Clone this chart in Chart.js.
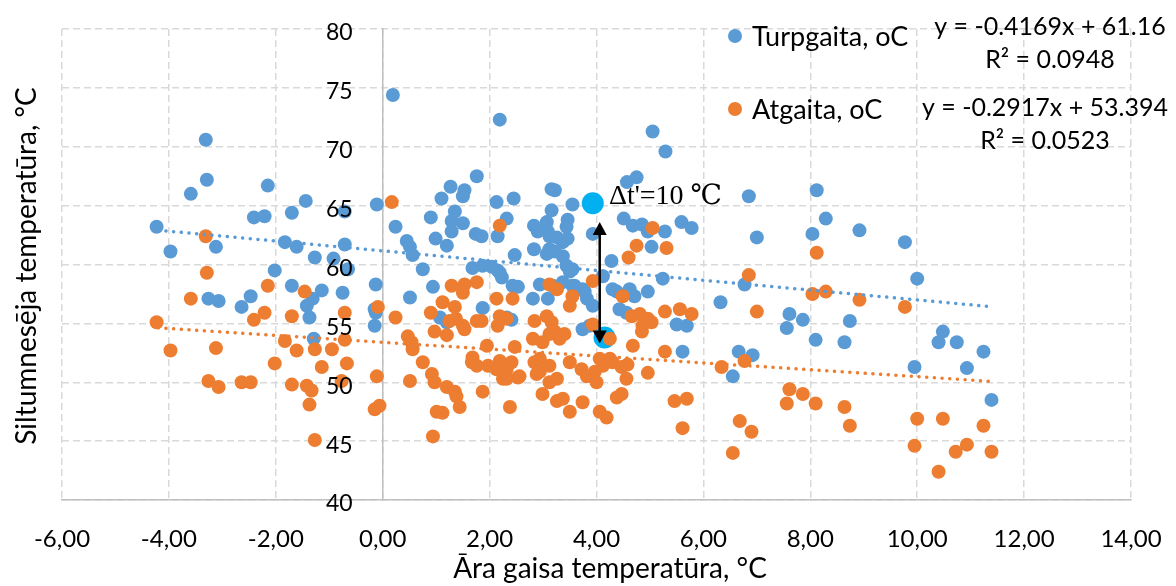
<!DOCTYPE html>
<html>
<head>
<meta charset="utf-8">
<script src="https://cdn.jsdelivr.net/npm/chart.js@4.4.0/dist/chart.umd.min.js"></script>
<style>
  html, body { margin: 0; padding: 0; background: #fff; }
  #wrap { width: 1176px; height: 586px; }
</style>
</head>
<body>
<div id="wrap"><canvas id="chart"></canvas></div>
<script>
// outdoor air temperature (x) vs. supply / return water temperature (y)
const turpgaitaPoints = [
  [-4.23, 63.2], [-3.97, 61.1], [-3.31, 70.6], [-3.29, 67.2], [-3.59, 66.0], [-3.12, 61.5],
  [-3.26, 57.1], [-3.07, 56.9], [-2.64, 56.4], [-2.47, 57.3], [-2.41, 64.0], [-2.21, 64.1],
  [-2.15, 66.7], [-2.02, 59.5], [-1.83, 61.9], [-1.61, 61.5], [-1.70, 64.4], [-1.44, 65.4],
  [-1.70, 58.2], [-1.27, 60.6], [-1.14, 57.8], [-1.42, 56.5], [-1.31, 57.1], [-1.37, 55.5],
  [-1.29, 53.7], [-0.71, 64.5], [-0.71, 61.7], [-0.92, 60.5], [-0.65, 59.6], [-0.75, 57.6],
  [-0.11, 65.1], [-0.13, 58.3], [-0.13, 55.9], [-0.15, 54.8], [-0.15, 56.2],
  [0.19, 74.4], [0.24, 63.2], [1.76, 67.5], [1.27, 66.6], [1.53, 66.3], [1.50, 65.8],
  [1.10, 65.6], [0.90, 64.0], [1.35, 64.5], [1.29, 63.7], [1.50, 63.5], [1.29, 62.8],
  [0.99, 62.2], [1.20, 61.6], [1.74, 62.6], [1.85, 62.4], [0.45, 62.0], [0.51, 61.5],
  [0.56, 60.8], [0.75, 59.6], [2.13, 65.3], [2.45, 65.6], [2.32, 63.9], [2.15, 62.4],
  [2.47, 60.8], [2.83, 63.3], [2.90, 62.8], [2.83, 61.3], [3.16, 66.4], [3.22, 66.3],
  [3.16, 64.6], [3.07, 63.6], [3.12, 62.4], [3.12, 61.3], [1.68, 59.7], [1.87, 59.9],
  [2.04, 59.8], [2.15, 59.5], [2.23, 58.9], [0.94, 58.1], [0.51, 57.2], [2.43, 58.2],
  [2.53, 58.1], [2.94, 58.3], [2.19, 72.3], [5.05, 71.3], [5.29, 69.6], [3.55, 65.1],
  [4.57, 67.0], [4.75, 67.4], [6.85, 65.8], [7.00, 62.3], [3.46, 63.8], [3.44, 63.2],
  [3.09, 62.8], [3.26, 62.3], [3.37, 61.9], [3.46, 62.2], [3.07, 60.9], [3.22, 61.1],
  [3.37, 60.7], [3.93, 62.6], [4.51, 63.9], [4.68, 63.3], [4.85, 63.4], [4.96, 62.8],
  [5.28, 62.8], [5.59, 63.6], [5.78, 63.1], [5.03, 61.5], [4.28, 60.3], [5.24, 58.8],
  [6.77, 58.3], [2.19, 59.3], [3.44, 59.9], [3.55, 59.6], [4.12, 59.0], [3.18, 58.2],
  [3.37, 58.5], [3.55, 58.2], [3.78, 57.7], [4.30, 57.9], [4.62, 57.9], [4.96, 57.7],
  [3.50, 59.4], [3.59, 58.2], [3.74, 57.9], [3.82, 57.1], [3.93, 56.5], [4.38, 57.7],
  [4.71, 57.3], [4.43, 56.2], [4.56, 55.9], [3.74, 54.5], [3.87, 54.8], [5.50, 54.9],
  [5.69, 54.8], [5.61, 52.6], [6.32, 56.8], [6.55, 50.5], [6.66, 52.6], [6.92, 52.3],
  [1.87, 56.3], [2.32, 55.5], [2.41, 55.3], [2.81, 57.1], [3.09, 57.1], [1.07, 55.5],
  [1.20, 55.1], [8.12, 66.3], [8.29, 63.9], [8.04, 62.6], [8.92, 62.9], [9.77, 61.9],
  [10.00, 58.8], [7.61, 55.8], [7.86, 55.3], [7.56, 54.6], [8.74, 55.2], [8.10, 53.6],
  [8.64, 53.4], [10.48, 54.3], [10.40, 53.4], [10.74, 53.4], [11.24, 52.6], [9.95, 51.3],
  [10.93, 51.2], [11.39, 48.5]
];

const atgaitaPoints = [
  [-4.23, 55.1], [-3.97, 52.7], [-3.31, 62.4], [-3.29, 59.3], [-3.59, 57.1], [-3.12, 52.9],
  [-3.26, 50.1], [-3.07, 49.6], [-2.64, 50.0], [-2.47, 50.0], [-2.41, 55.3], [-2.21, 55.9],
  [-2.15, 58.2], [-2.02, 51.6], [-1.83, 53.5], [-1.61, 52.7], [-1.70, 55.6], [-1.46, 57.7],
  [-1.70, 49.8], [-1.42, 49.7], [-1.33, 49.3], [-1.37, 48.1], [-1.27, 45.1], [-1.27, 52.8],
  [-0.95, 52.8], [-1.14, 51.3], [-0.71, 55.9], [-0.71, 53.6], [-0.67, 51.6], [-0.77, 50.1],
  [-0.11, 50.5], [-0.09, 56.4], [-0.15, 47.7], [-0.06, 48.0],
  [0.17, 65.3], [2.19, 63.3], [0.24, 55.5], [0.90, 55.9], [1.12, 56.8], [1.35, 56.4],
  [1.37, 55.4], [1.25, 55.2], [0.97, 54.3], [1.20, 54.0], [1.50, 54.8], [1.53, 54.5],
  [1.76, 55.2], [1.85, 55.2], [0.47, 53.9], [0.54, 53.4], [0.56, 52.8], [0.75, 51.7],
  [0.51, 50.1], [0.92, 50.7], [0.97, 50.0], [1.20, 49.6], [1.35, 49.2], [1.38, 48.8],
  [1.01, 47.5], [1.12, 47.4], [1.44, 47.9], [0.94, 45.4], [2.13, 57.1], [2.43, 57.1],
  [2.15, 54.8], [2.32, 55.4], [1.95, 53.1], [1.68, 52.1], [1.67, 51.7], [1.76, 51.4],
  [1.87, 49.2], [2.38, 47.9], [1.97, 51.4], [2.19, 51.8], [2.32, 51.1], [2.41, 51.7],
  [2.25, 50.3], [2.53, 50.4], [2.47, 53.0], [2.81, 53.7], [2.84, 55.2], [3.07, 55.6],
  [3.16, 55.1], [3.22, 54.3], [2.84, 51.7], [2.88, 50.7], [3.12, 50.0], [2.99, 49.0],
  [3.26, 48.4], [1.29, 58.2], [1.53, 58.3], [1.76, 58.5], [1.50, 57.6], [2.19, 55.6],
  [3.12, 58.3], [3.26, 57.9], [3.55, 57.3], [3.50, 56.5], [3.12, 54.1], [3.31, 53.7],
  [3.40, 54.1], [2.99, 53.4], [3.93, 54.9], [4.25, 53.7], [4.49, 57.3], [4.66, 55.6],
  [4.81, 55.8], [4.96, 55.4], [5.03, 55.1], [4.86, 54.8], [4.85, 54.3], [4.68, 53.1],
  [5.28, 56.0], [5.56, 56.2], [5.78, 55.8], [5.28, 52.6], [4.96, 50.8], [2.13, 51.1],
  [2.32, 50.3], [2.56, 50.5], [2.94, 52.0], [2.94, 50.9], [3.12, 51.4], [3.26, 50.3],
  [3.37, 48.6], [3.50, 47.5], [3.74, 48.3], [3.50, 51.7], [3.72, 51.1], [3.82, 50.5],
  [4.00, 50.0], [3.97, 50.9], [4.12, 51.4], [4.30, 51.7], [4.47, 51.3], [4.58, 51.5],
  [4.56, 50.3], [4.06, 52.0], [4.25, 52.0], [4.06, 47.5], [4.19, 47.0], [4.38, 48.7],
  [4.47, 49.0], [5.46, 48.4], [5.69, 48.6], [5.61, 46.1], [6.68, 46.7], [6.90, 45.8],
  [6.55, 44.0], [6.34, 51.3], [6.77, 51.8], [7.00, 56.0], [3.93, 58.6], [5.05, 63.1],
  [5.31, 61.4], [4.75, 61.6], [4.60, 60.6], [6.85, 59.1], [8.12, 61.0], [8.04, 57.5],
  [8.29, 57.7], [8.92, 57.0], [9.77, 56.4], [7.61, 49.4], [7.86, 49.0], [7.56, 48.2],
  [8.10, 48.2], [8.64, 47.9], [8.74, 46.3], [10.00, 46.9], [10.48, 46.9], [9.95, 44.6],
  [10.40, 42.4], [10.72, 44.1], [10.93, 44.7], [11.24, 46.3], [11.39, 44.1]
];

// the two highlighted points between which the delta is marked
const highlightPoints = [[3.93, 65.2], [4.15, 53.8]];

// linear trend lines as shown (ends at first / last x)
const trendX = [-4.2, 11.4];
const turpgaitaTrendY = [62.91, 56.41];
const atgaitaTrendY = [54.62, 50.07];

const seriesNames = ['Turpgaita, oC', 'Atgaita, oC'];
const trendLabels = [
  ['y = -0.4169x + 61.16', 'R² = 0.0948'],
  ['y = -0.2917x + 53.394', 'R² = 0.0523']
];
const deltaLabel = "Δt'=10 ℃";
const arrowX = 4.06;
const arrowY = [63.6, 53.3];

const xTitle = 'Āra gaisa temperatūra, °C';
const yTitle = 'Siltumnesēja temperatūra, °C';

const BLUE = '#5B9BD5';
const ORANGE = '#ED7D31';
const CYAN = '#00B0F0';
const FONT = 'Lato, "Open Sans", sans-serif';

const toXY = arr => arr.map(p => ({ x: p[0], y: p[1] }));
const trendData = ys => trendX.map((x, i) => ({ x, y: ys[i] }));

const overlay = {
  id: 'overlay',
  afterDatasetsDraw(chart) {
    const { ctx, scales: { x, y } } = chart;
    // double-headed arrow
    const ax = x.getPixelForValue(arrowX);
    const y1 = y.getPixelForValue(arrowY[0]);
    const y2 = y.getPixelForValue(arrowY[1]);
    const head = 13, half = 7;
    ctx.save();
    ctx.strokeStyle = '#000';
    ctx.fillStyle = '#000';
    ctx.lineWidth = 2.5;
    ctx.beginPath();
    ctx.moveTo(ax, y1 + head - 2);
    ctx.lineTo(ax, y2 - head + 2);
    ctx.stroke();
    ctx.beginPath();
    ctx.moveTo(ax, y1);
    ctx.lineTo(ax - half, y1 + head);
    ctx.lineTo(ax + half, y1 + head);
    ctx.closePath();
    ctx.fill();
    ctx.beginPath();
    ctx.moveTo(ax, y2);
    ctx.lineTo(ax - half, y2 - head);
    ctx.lineTo(ax + half, y2 - head);
    ctx.closePath();
    ctx.fill();
    ctx.restore();
  },
  afterDraw(chart) {
    const { ctx, scales: { x, y } } = chart;
    ctx.save();
    ctx.fillStyle = '#000';

    // y tick labels, left of the x = 0 axis line
    ctx.font = '23px ' + FONT;
    ctx.textAlign = 'right';
    ctx.textBaseline = 'middle';
    const labelRight = x.getPixelForValue(0) - 30;
    y.ticks.forEach(t => {
      ctx.fillText(String(t.value), labelRight, y.getPixelForValue(t.value) + 4);
    });

    // delta label
    ctx.font = '28px "Liberation Serif", "DejaVu Serif", serif';
    ctx.textAlign = 'left';
    ctx.textBaseline = 'alphabetic';
    ctx.fillText(deltaLabel, 609, 204);

    // legend
    const legendCols = [BLUE, ORANGE];
    const legendY = [36, 109];
    ctx.font = '27px ' + FONT;
    ctx.textBaseline = 'middle';
    seriesNames.forEach((name, i) => {
      ctx.fillStyle = legendCols[i];
      ctx.beginPath();
      ctx.arc(735, legendY[i], 7, 0, Math.PI * 2);
      ctx.fill();
      ctx.fillStyle = '#000';
      ctx.textAlign = 'left';
      ctx.fillText(name, 752, legendY[i] + 1);
    });

    // trend equations
    ctx.font = '25px ' + FONT;
    ctx.textAlign = 'center';
    const eqPos = [[1050, 27, 60], [1045, 108, 141]];
    trendLabels.forEach((lines, i) => {
      ctx.fillText(lines[0], eqPos[i][0], eqPos[i][1]);
      ctx.fillText(lines[1], eqPos[i][0], eqPos[i][2]);
    });

    // axis titles
    ctx.font = '28px ' + FONT;
    ctx.fillText(xTitle, 610, 569);
    ctx.translate(27, 266);
    ctx.rotate(-Math.PI / 2);
    ctx.fillText(yTitle, 0, 0);
    ctx.restore();
  }
};

const gridStyle = { color: '#d9d9d9', lineWidth: 1.5, drawTicks: false };
const borderStyle = { display: true, color: '#bfbfbf', width: 1.5, dash: [7, 4] };

new Chart(document.getElementById('chart'), {
  type: 'scatter',
  data: {
    datasets: [
      {
        label: 'Turpgaita trend', type: 'line', data: trendData(turpgaitaTrendY),
        borderColor: BLUE, borderWidth: 3.5, borderDash: [0.1, 7.6], borderCapStyle: 'round',
        pointRadius: 0, fill: false, order: 1
      },
      {
        label: 'Atgaita trend', type: 'line', data: trendData(atgaitaTrendY),
        borderColor: ORANGE, borderWidth: 3.5, borderDash: [0.1, 7.6], borderCapStyle: 'round',
        pointRadius: 0, fill: false, order: 1
      },
      {
        label: seriesNames[1], data: toXY(atgaitaPoints),
        backgroundColor: ORANGE, borderWidth: 0, pointRadius: 7, order: 2
      },
      {
        label: 'highlight', data: toXY(highlightPoints),
        backgroundColor: CYAN, borderWidth: 0, pointRadius: 11, order: 3
      },
      {
        label: seriesNames[0], data: toXY(turpgaitaPoints),
        backgroundColor: BLUE, borderWidth: 0, pointRadius: 7, order: 4
      }
    ]
  },
  options: {
    responsive: true,
    maintainAspectRatio: false,
    animation: false,
    events: [],
    layout: { padding: { left: 62, right: 45, top: 29, bottom: 0 } },
    plugins: { legend: { display: false }, tooltip: { enabled: false } },
    scales: {
      x: {
        type: 'linear', position: 'bottom', min: -6, max: 14,
        grid: gridStyle, border: borderStyle,
        ticks: {
          stepSize: 2, padding: 25, color: '#000',
          font: { family: FONT, size: 24 },
          callback: v => v.toFixed(2).replace('.', ',')
        },
        afterFit: s => {
          s.height = 86;
          // label overhang is already covered by the layout padding
          s.paddingLeft = 0;
          s.paddingRight = 0;
        }
      },
      y: {
        type: 'linear', position: { x: 0 }, min: 40, max: 80,
        grid: gridStyle, border: borderStyle,
        ticks: { stepSize: 5, display: false }
      }
    }
  },
  plugins: [overlay]
});
</script>
</body>
</html>
